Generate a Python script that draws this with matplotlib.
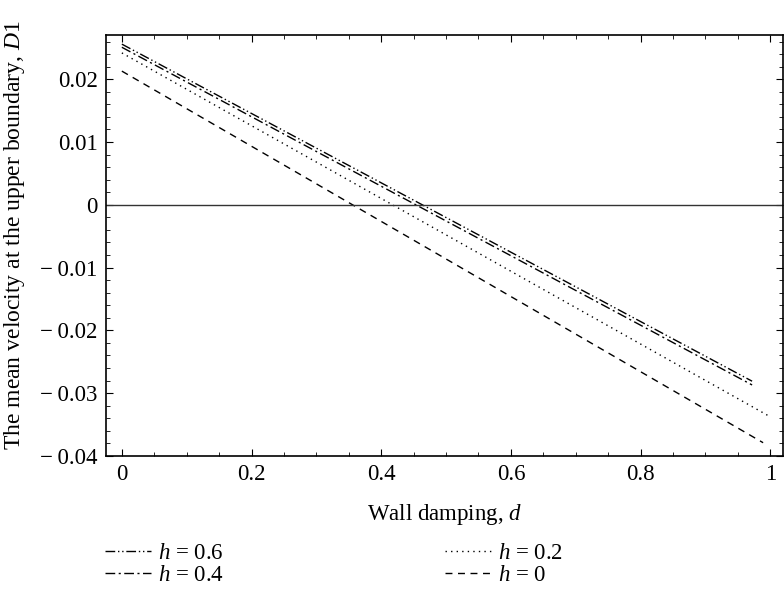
import numpy as np
import matplotlib
matplotlib.use("Agg")
import matplotlib.pyplot as plt
from matplotlib.ticker import MultipleLocator

plt.rcParams['font.family'] = ['Liberation Serif', 'DejaVu Serif']
plt.rcParams['mathtext.fontset'] = 'custom'
plt.rcParams['mathtext.rm'] = 'Liberation Serif'
plt.rcParams['mathtext.it'] = 'Liberation Serif:italic'
plt.rcParams['axes.unicode_minus'] = True

# wall damping d at the ends of each line, and mean velocity D1 there
h_labels = ['0.6', '0.4', '0.2', '0']
d_start = [0.0, 0.0, 0.0, 0.0]
d_end = [0.972, 0.972, 0.997, 0.989]
D1_start = [0.0256, 0.0251, 0.0242, 0.0213]
D1_end = [-0.0281, -0.0287, -0.0336, -0.0379]
styles = [(0, (7, 2, 1, 2, 1, 2)), (0, (7, 2.5, 1.5, 2.5)), (0, (1, 3)), (0, (5, 4))]

fs = 16.5

fig = plt.figure(figsize=(7.84, 5.89), dpi=100)
ax = fig.add_axes([0.135, 0.226, 0.864, 0.714])

lines = []
for i in range(len(h_labels)):
    ln, = ax.plot([d_start[i], d_end[i]], [D1_start[i], D1_end[i]],
                  color='black', lw=1.0, linestyle=styles[i],
                  label='$h$ = ' + h_labels[i])
    lines.append(ln)

ax.axhline(0, color='#333333', lw=1.0)

ax.set_xlim(-0.0247, 1.02)
ax.set_ylim(-0.04, 0.027)
ax.xaxis.set_minor_locator(MultipleLocator(0.05))
ax.yaxis.set_minor_locator(MultipleLocator(0.002))
ax.set_xticks([0, 0.2, 0.4, 0.6, 0.8, 1.0])
ax.set_xticklabels(['0', '0.2', '0.4', '0.6', '0.8', '1'])
ax.set_yticks([-0.04, -0.03, -0.02, -0.01, 0, 0.01, 0.02])
ax.set_yticklabels(['\u2212\u20090.04', '\u2212\u20090.03', '\u2212\u20090.02', '\u2212\u20090.01',
                    '0', '0.01', '0.02'])
ax.tick_params(which='both', direction='in', top=True, right=True, labelsize=fs, pad=6)
ax.tick_params(which='major', length=5)
ax.tick_params(which='minor', length=3)
for s in ax.spines.values():
    s.set_linewidth(1.2)

ax.set_xlabel('Wall damping, $d$', fontsize=fs, labelpad=12)
fig.text(0.019, 0.60, 'The mean velocity at the upper boundary, $D$1', rotation=90,
         fontsize=fs + 0.5, ha='center', va='center')

fig.legend(handles=lines, ncol=2, loc='upper left', bbox_to_anchor=(0.108, 0.113),
           frameon=False, fontsize=fs, handlelength=2.0, columnspacing=9.65,
           labelspacing=0.05, handletextpad=0.3)

fig.savefig('out.png', dpi=100)
